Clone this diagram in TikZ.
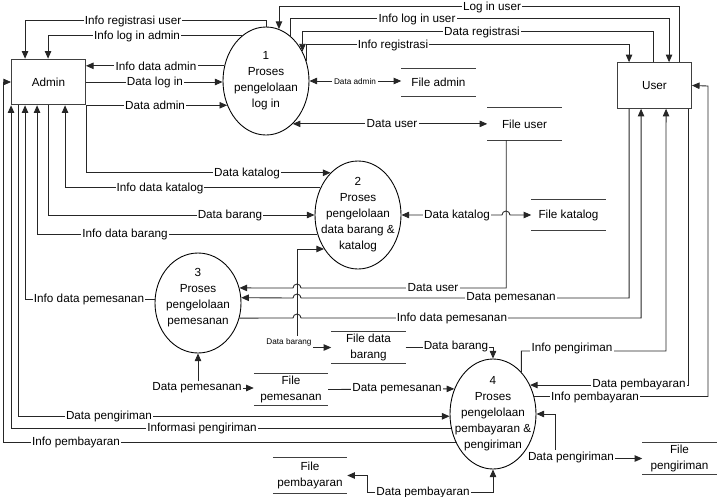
\documentclass[tikz,border=0pt]{standalone}
\usepackage{fontspec}
\setmainfont{Liberation Sans}
\usetikzlibrary{arrows.meta,shapes.geometric,calc}

\begin{document}
\begin{tikzpicture}[x=0.03cm,y=-0.03cm,>={Triangle[length=6.5pt,width=5.5pt]},
  every node/.style={font=\fontsize{10}{13.7}\selectfont},
  flow/.style={line width=0.75pt,black!85},
  ent/.style={draw=black!75,line width=0.75pt,rectangle,minimum width=2.22cm,minimum height=1.37cm},
  proc/.style={draw=black,line width=0.75pt,ellipse,minimum width=2.58cm,inner sep=0pt},
  ptext/.style={align=center,inner sep=0pt},
  store/.style={align=center,inner sep=0pt,minimum width=2.22cm,
    append after command={(\tikzlastnode.north west) edge[line width=0.75pt,black!75] (\tikzlastnode.north east)
      (\tikzlastnode.south west) edge[line width=0.75pt,black!75] (\tikzlastnode.south east)}},
  lbl/.style={fill=white,inner sep=1pt},
  small/.style={lbl,inner sep=1.5pt,font=\fontsize{7}{8}\selectfont}]
  \useasboundingbox (0,0) rectangle (718,496);

  % entities
  \node[ent] (admin) at (48.5,82) {Admin};
  \node[ent] (user) at (654.5,85.5) {User};

  % processes
  \node[proc,minimum height=3.24cm] (p1) at (266,81) {};
  \node[ptext] (t1) at (p1) {1\\Proses\\pengelolaan\\log in};
  \node[proc,minimum height=3.24cm] (p2) at (358,215) {};
  \node[ptext] (t2) at (p2) {2\\Proses\\pengelolaan\\data barang \&\\katalog};
  \node[proc,minimum height=3.0cm] (p3) at (198,303) {};
  \node[ptext] (t3) at ($(p3)+(0,-5)$) {3\\Proses\\pengelolaan\\pemesanan};
  \node[proc,minimum height=3.3cm] (p4) at (493,414) {};
  \node[ptext] (t4) at (p4) {4\\Proses\\pengelolaan\\pembayaran \&\\pengiriman};

  % data stores
  \node[store,minimum height=0.81cm] (fadmin) at (438.5,82.5) {File admin};
  \node[store,minimum height=0.96cm] (fuser) at (524.5,124) {File user};
  \node[store,minimum height=0.9cm] (fkatalog) at (568.5,215) {File katalog};
  \node[store,minimum height=0.93cm] (fdbarang) at (368.5,347.5) {File data\\barang};
  \node[store,minimum height=0.93cm] (fpemesanan) at (291,389.5) {File\\pemesanan};
  \node[store,minimum height=1.05cm] (fpembayaran) at (310,475.5) {File\\pembayaran};
  \node[store,minimum height=0.93cm] (fpengiriman) at (679.5,458.5) {File\\pengiriman};

  % admin - proses 1
  \draw[flow,->] (p1.north) -- ++(0,-6) -| ($(admin.north west)+(14,0)$);
  \draw[flow,->] (p1.118) -| ($(admin.north west)+(37,0)$);
  \draw[flow,->] (p1.160) -- (admin.east |- p1.160);
  \draw[flow,->] (admin.east) -- (admin.east -| p1.west);
  \draw[flow,->] (admin.south east) -- (admin.south east -| p1.212);

  % user - proses 1
  \draw[flow,->] ($(user.north west)+(62,0)$) -- ++(0,-56) -| (p1.76);
  \draw[flow,->] (p1.62) -- ++(0,-17) -| ($(user.north west)+(52,0)$);
  \draw[flow,->] ($(user.north west)+(36,0)$) -- ++(0,-31) -| (p1.39);
  \draw[flow,->] (p1.27) -- ++(0,-16) -| ($(user.north west)+(12,0)$);
  \draw[flow,<->] (p1.east) -- (p1.east -| fadmin.west);
  \draw[flow,<->] (p1.302) -- (fuser.west |- p1.302);

  % admin - proses 2
  \draw[flow,->] (admin.south east) |- (p2.123);
  \draw[flow,->] (p2.144) -| ($(admin.south west)+(54,0)$);
  \draw[flow,->] ($(admin.south west)+(37,0)$) |- (p2.west);
  \draw[flow,->] (p2.205) -| ($(admin.south west)+(26,0)$);
  \draw[flow,<->] (p2.east) -- (502,215) arc[start angle=180,end angle=0,radius=0.12cm] -- (fkatalog.west);
  \draw[flow,<->] (p2.225) -| (297,347.5) -- (fdbarang.west);

  % proses 3
  \draw[flow,->] ($(fuser.south west)+(19,0)$) |- (301,288) arc[start angle=0,end angle=180,radius=0.12cm] -- (p3.20);
  \draw[flow,->] ($(user.south west)+(12,0)$) |- (301,298) arc[start angle=0,end angle=180,radius=0.12cm] -- (p3.7);
  \draw[flow,->] (p3.340) -- (293,318) arc[start angle=180,end angle=0,radius=0.12cm] -| ($(user.south west)+(24,0)$);
  \draw[flow,->] (p3.175) -| ($(admin.south west)+(14,0)$);

  % proses 4
  \draw[flow,->] (fdbarang.east) -| (p4.north);
  \draw[flow,->] (fpemesanan.east) -- (p4.147);
  \draw[flow,->] ($(admin.south west)+(7,0)$) |- (p4.183);
  \draw[flow,->] (p4.199) -| (admin.south west);
  \draw[flow,->] (p4.217) -| (3,82) -- (admin.west);
  \draw[flow,->] (p4.56) |- (666,351) -- ($(user.south west)+(49,0)$);
  \draw[flow,->] ($(user.south west)+(71,0)$) |- (p4.38);
  \draw[flow,->] (p4.23) -| (708,86) -- (user.east);
  \draw[flow,<->] (p4.east) -- (555,414) |- (fpengiriman.west);
  \draw[flow,<->] (fpembayaran.east) -| (367,492) -| (p4.south);

  \node[lbl] (dpesan) at (197,388) {Data pemesanan};
  \draw[flow,->] (dpesan.north -| p3.south) -- (p3.south);
  \draw[flow,->] (dpesan.east) -- (fpemesanan.west |- dpesan.east);

  % labels
  \node[lbl] (lregu) at (133,21) {Info registrasi user};
  \node[lbl] (llogadm) at (137,36) {Info log in admin};
  \node[lbl] (linfadm) at (156,66) {Info data admin};
  \node[lbl] (llogin) at (155,82) {Data log in};
  \node[lbl] (ldadm) at (155,105) {Data admin};
  \node[lbl] (lloguser) at (492,7) {Log in user};
  \node[lbl] (linflog) at (417,19) {Info log in user};
  \node[lbl] (ldreg) at (482,32) {Data registrasi};
  \node[lbl] (linfreg) at (393,45) {Info registrasi};
  \node[small] (lfadm) at (355,82) {Data admin};
  \node[lbl] (lduser) at (392,124) {Data user};
  \node[lbl] (ldkat) at (247,173) {Data katalog};
  \node[lbl] (linfkat) at (160,188) {Info data katalog};
  \node[lbl] (ldbar) at (230,215) {Data barang};
  \node[lbl] (linfbar) at (125,234) {Info data barang};
  \node[lbl] (ldkat2) at (457,215) {Data katalog};
  \node[lbl] (lduser2) at (433,288) {Data user};
  \node[lbl] (ldpes) at (511,298) {Data pemesanan};
  \node[lbl] (linfpes) at (452,318) {Info data pemesanan};
  \node[lbl] (linfpes2) at (89,299) {Info data pemesanan};
  \node[small] (lsbar) at (289,342) {Data barang};
  \node[lbl] (ldbar2) at (456,346) {Data barang};
  \node[lbl] (ldpes2) at (397,389) {Data pemesanan};
  \node[lbl] (linfkirim) at (572,348) {Info pengiriman};
  \node[lbl] (ldbayar) at (639,384) {Data pembayaran};
  \node[lbl] (linfbayar) at (595,397) {Info pembayaran};
  \node[lbl] (ldkirim) at (571,457) {Data pengiriman};
  \node[lbl] (ldkirim2) at (109,416) {Data pengiriman};
  \node[lbl] (linfokirim) at (202,428) {Informasi pengiriman};
  \node[lbl] (linfbayar2) at (76,442) {Info pembayaran};
  \node[lbl] (ldbayar2) at (423,492) {Data pembayaran};
\end{tikzpicture}
\end{document}
